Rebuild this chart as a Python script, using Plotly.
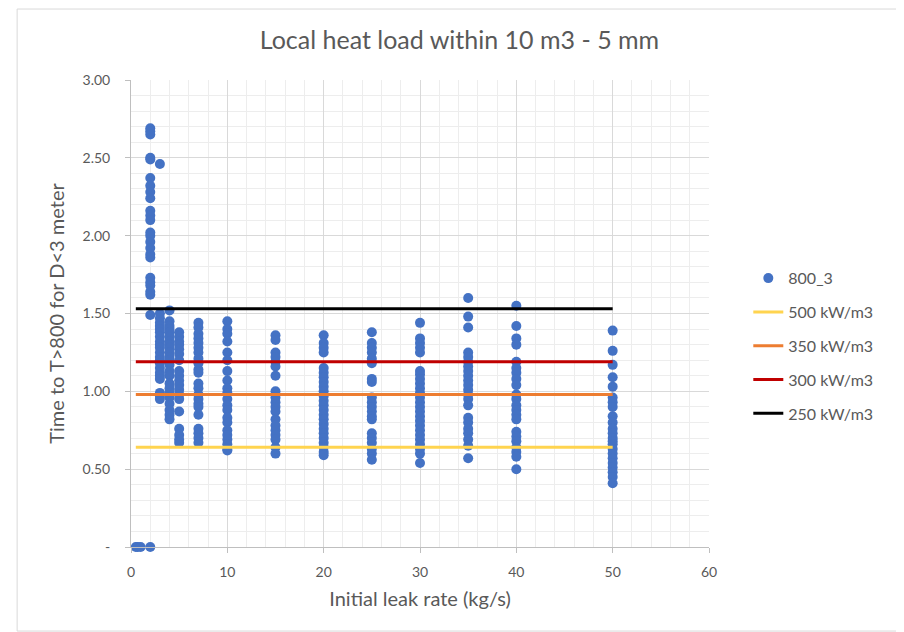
import plotly.graph_objects as go

# ---- data ----
zero_x = [0.5, 0.7, 1.0, 2.0]
zero_y = [0, 0, 0, 0]

leak_rates = [2, 3, 4, 5, 7, 10, 15, 20, 25, 30, 35, 40, 50]

y_2 = [2.69, 2.67, 2.65, 2.50, 2.49, 2.37, 2.32, 2.28, 2.24, 2.16, 2.13, 2.10,
       2.02, 2.00, 1.96, 1.92, 1.88, 1.86, 1.73, 1.70, 1.68, 1.64, 1.62, 1.49]
y_3 = [2.46, 1.50, 1.47, 1.44, 1.42, 1.40, 1.38, 1.35, 1.32, 1.30, 1.28, 1.25,
       1.22, 1.20, 1.18, 1.15, 1.12, 1.10, 1.08, 0.99, 0.97, 0.95]
y_4 = [1.52, 1.45, 1.42, 1.40, 1.38, 1.35, 1.32, 1.30, 1.28, 1.25, 1.22, 1.20,
       1.17, 1.13, 1.10, 1.05, 1.02, 0.99, 0.96, 0.92, 0.88, 0.85, 0.82]
y_5 = [1.38, 1.35, 1.32, 1.30, 1.27, 1.24, 1.20, 1.13, 1.10, 1.07, 1.04, 1.01,
       0.98, 0.95, 0.87, 0.76, 0.72, 0.69, 0.67]
y_7 = [1.44, 1.41, 1.37, 1.34, 1.31, 1.28, 1.25, 1.21, 1.18, 1.14, 1.12, 1.05,
       1.02, 0.98, 0.95, 0.92, 0.90, 0.85, 0.76, 0.73, 0.70, 0.67]
y_10 = [1.45, 1.40, 1.37, 1.32, 1.25, 1.20, 1.13, 1.07, 1.02, 0.99, 0.95, 0.91,
        0.88, 0.83, 0.80, 0.75, 0.72, 0.69, 0.66, 0.63, 0.62]
y_15 = [1.36, 1.33, 1.25, 1.22, 1.19, 1.16, 1.10, 1.00, 0.96, 0.93, 0.90, 0.87,
        0.82, 0.78, 0.75, 0.72, 0.69, 0.64, 0.60]
y_20 = [1.36, 1.31, 1.28, 1.25, 1.15, 1.12, 1.09, 1.06, 1.03, 1.00, 0.97, 0.94,
        0.91, 0.88, 0.85, 0.82, 0.79, 0.76, 0.73, 0.70, 0.67, 0.64, 0.61, 0.59]
y_25 = [1.38, 1.31, 1.28, 1.25, 1.21, 1.18, 1.08, 1.06, 0.96, 0.93, 0.90, 0.87,
        0.84, 0.82, 0.73, 0.70, 0.67, 0.63, 0.60, 0.56]
y_30 = [1.44, 1.34, 1.31, 1.28, 1.25, 1.13, 1.11, 1.08, 1.05, 1.02, 0.99, 0.96,
        0.93, 0.90, 0.87, 0.84, 0.81, 0.78, 0.75, 0.72, 0.69, 0.66, 0.63, 0.60, 0.54]
y_35 = [1.60, 1.48, 1.41, 1.25, 1.22, 1.19, 1.16, 1.13, 1.10, 1.07, 1.04, 1.01,
        0.98, 0.95, 0.91, 0.83, 0.80, 0.76, 0.73, 0.69, 0.65, 0.57]
y_40 = [1.55, 1.42, 1.34, 1.30, 1.19, 1.15, 1.12, 1.08, 1.04, 0.98, 0.95, 0.91,
        0.88, 0.85, 0.82, 0.74, 0.71, 0.68, 0.64, 0.61, 0.58, 0.50]
y_50 = [1.39, 1.26, 1.17, 1.09, 1.03, 0.96, 0.93, 0.90, 0.84, 0.80, 0.76, 0.73,
        0.70, 0.68, 0.66, 0.63, 0.60, 0.57, 0.54, 0.51, 0.48, 0.45, 0.41]

columns = [y_2, y_3, y_4, y_5, y_7, y_10, y_15, y_20, y_25, y_30, y_35, y_40, y_50]

threshold_names = ["500 kW/m3", "350 kW/m3", "300 kW/m3", "250 kW/m3"]
threshold_values = [0.64, 0.98, 1.19, 1.53]
threshold_colors = ["#FFD44F", "#ED7D31", "#C00000", "#000000"]
line_x = [0.5, 50]

y_tick_vals = [0, 0.5, 1.0, 1.5, 2.0, 2.5, 3.0]
y_tick_text = ["-", "0.50", "1.00", "1.50", "2.00", "2.50", "3.00"]

# ---- build ----
xs = list(zero_x)
ys = list(zero_y)
for xv, col in zip(leak_rates, columns):
    xs += [xv] * len(col)
    ys += col

FONT = "Lato, 'Open Sans', sans-serif"
GRAY = "#595959"

fig = go.Figure()
fig.add_trace(go.Scatter(
    x=xs, y=ys, mode="markers", name="800_3", legendgroup="a",
    marker=dict(color="#4472C4", size=10, line=dict(width=0)),
    cliponaxis=False,
))
for i, (nm, v, c) in enumerate(zip(threshold_names, threshold_values, threshold_colors)):
    fig.add_trace(go.Scatter(
        x=line_x, y=[v, v], mode="lines", name=nm, legendgroup=f"l{i}",
        line=dict(color=c, width=3),
    ))

fig.update_layout(
    width=904, height=632,
    margin=dict(l=123, r=203, t=72, b=93),
    paper_bgcolor="white", plot_bgcolor="white",
    font=dict(family=FONT, color=GRAY, size=14),
    title=dict(text="Local heat load within 10 m3 - 5 mm", x=0.4994, xref="container",
               xanchor="center", y=1 - 32 / 632, yref="container", yanchor="middle",
               font=dict(size=25, color=GRAY, family=FONT)),
    showlegend=True,
    legend=dict(x=1.068, y=0.612, xanchor="left", yanchor="top",
                font=dict(size=16, color=GRAY, family=FONT),
                tracegroupgap=10, bgcolor="rgba(0,0,0,0)"),
    shapes=[dict(type="rect", xref="paper", yref="paper",
                 x0=-0.197, x1=1.332, y0=-0.18, y1=1.152,
                 line=dict(color="#D9D9D9", width=1), layer="below")],
)
fig.update_xaxes(
    range=[0, 60], dtick=10, tick0=0,
    showgrid=True, gridcolor="#D9D9D9", gridwidth=1,
    minor=dict(dtick=2, showgrid=True, gridcolor="#EDEDED", gridwidth=1),
    showline=True, linecolor="#BFBFBF", linewidth=1,
    ticks="outside", ticklen=5, tickcolor="#BFBFBF",
    ticklabelstandoff=7,
    zeroline=False,
    tickfont=dict(size=14, color=GRAY),
    title=dict(text="Initial leak rate (kg/s)", font=dict(size=20, color=GRAY), standoff=13),
)
fig.update_yaxes(
    range=[0, 3], tickvals=y_tick_vals, ticktext=y_tick_text,
    showgrid=True, gridcolor="#D9D9D9", gridwidth=1,
    minor=dict(dtick=0.1, tick0=0, showgrid=True, gridcolor="#EDEDED", gridwidth=1),
    showline=True, linecolor="#BFBFBF", linewidth=1,
    ticks="outside", ticklen=5, tickcolor="#BFBFBF",
    ticklabelstandoff=12,
    zeroline=False,
    tickfont=dict(size=14, color=GRAY),
    title=dict(text="Time to T>800 for D<3 meter", font=dict(size=20, color=GRAY), standoff=12),
)

fig.write_html("out.html")
